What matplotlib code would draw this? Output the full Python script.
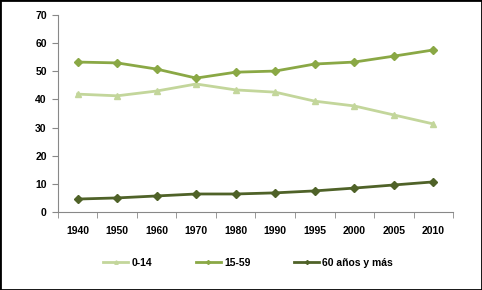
import matplotlib
matplotlib.use("Agg")
import matplotlib.pyplot as plt
import numpy as np

years = ["1940", "1950", "1960", "1970", "1980", "1990", "1995", "2000", "2005", "2010"]
g0_14 = [41.9, 41.3, 43.0, 45.5, 43.4, 42.6, 39.4, 37.7, 34.5, 31.3]
g15_59 = [53.3, 53.0, 50.8, 47.6, 49.7, 50.1, 52.6, 53.3, 55.4, 57.6]
g60 = [4.6, 5.0, 5.7, 6.4, 6.4, 6.8, 7.5, 8.5, 9.6, 10.7]
labels = ["0-14", "15-59", "60 años y más"]

plt.rcParams['font.family'] = ['Liberation Sans', 'DejaVu Sans']
fig = plt.figure(figsize=(4.82, 2.90), dpi=100)
ax = fig.add_axes([0.120, 0.269, 0.820, 0.679])
x = np.arange(len(years))
ax.plot(x, g0_14, color="#c3d69b", marker="^", ms=5, lw=2, label=labels[0])
ax.plot(x, g15_59, color="#8aa845", marker="D", ms=4, lw=2, label=labels[1])
ax.plot(x, g60, color="#4f6228", marker="D", ms=4, lw=2, label=labels[2])

ax.set_xlim(-0.5, len(years) - 0.5)
ax.set_ylim(0, 70)
ax.set_yticks(range(0, 71, 10))
ax.set_xticks(x)
ax.set_xticklabels(years)
ax.set_xticks(np.arange(-0.5, len(years), 1), minor=True)
ax.tick_params(axis='x', which='major', length=0, pad=10)
ax.tick_params(axis='x', which='minor', length=4, color="#888888")
ax.tick_params(axis='y', length=4, color="#888888", pad=4)
for lab in ax.get_xticklabels() + ax.get_yticklabels():
    lab.set_fontweight('bold')
    lab.set_fontsize(7.5)
for s in ['top', 'right']:
    ax.spines[s].set_visible(False)
for s in ['left', 'bottom']:
    ax.spines[s].set_color("#888888")

leg = fig.legend(loc='center', bbox_to_anchor=(0.515, 0.093), ncol=3, frameon=False,
                 prop={'weight': 'bold', 'size': 7.5}, columnspacing=4.2, handlelength=2.4,
                 markerscale=0.5, handletextpad=0.3)

border = plt.Rectangle((0, 0), 1, 1, transform=fig.transFigure, fill=False,
                       edgecolor='black', lw=2)
fig.patches.append(border)
fig.savefig("out.png", dpi=100)
